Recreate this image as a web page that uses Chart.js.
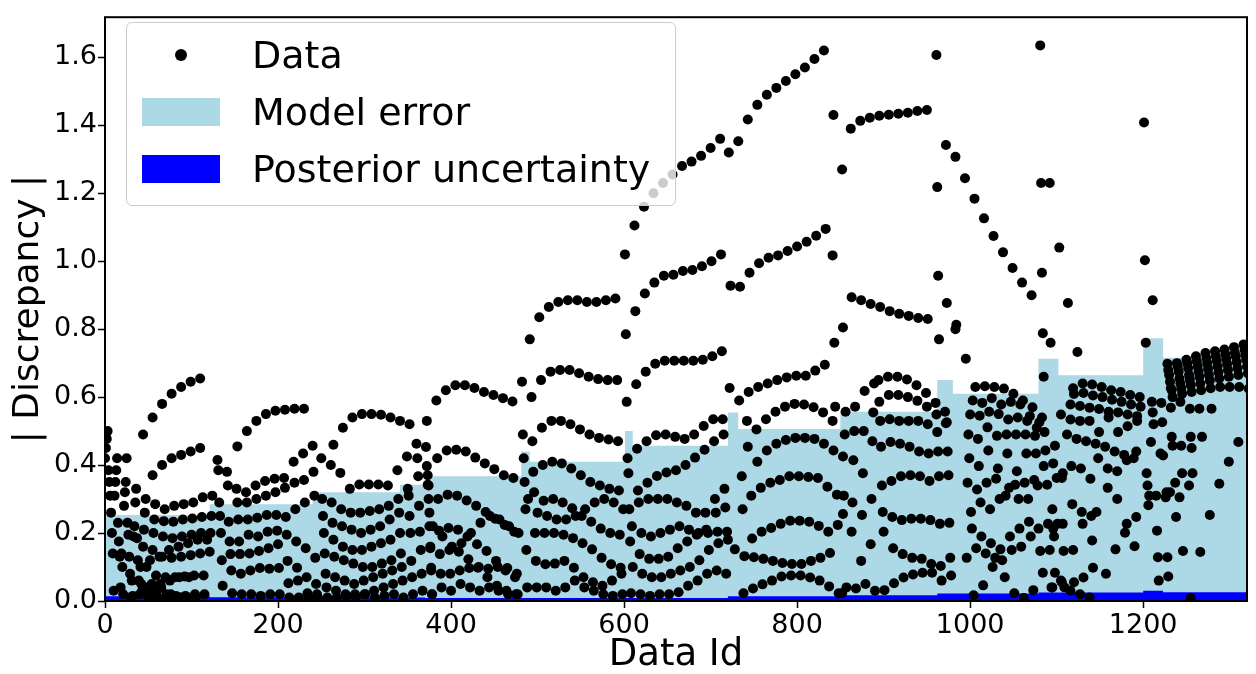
<!DOCTYPE html>
<html>
<head>
<meta charset="utf-8">
<script src="https://cdn.jsdelivr.net/npm/chart.js@4.4.1/dist/chart.umd.min.js"></script>
<style>
  body { margin: 0; background: #fff; }
  #wrap { position: relative; width: 1256px; height: 674px; }
  #legend {
    position: absolute; left: 126px; top: 22px; width: 548px; height: 182px;
    background: rgba(255,255,255,0.8); border: 1px solid #cccccc; border-radius: 6px;
    font-family: "DejaVu Sans", sans-serif; font-size: 38px; color: #000;
  }
  .item { position: absolute; left: 0; height: 40px; display: flex; align-items: center; }
  .mark { width: 78px; height: 28px; margin-left: 15px; display: flex; align-items: center; justify-content: center; }
  .lbl { margin-left: 32px; white-space: nowrap; }
</style>
</head>
<body>
<div id="wrap">
  <canvas id="chart" width="1256" height="674"></canvas>
  <div id="legend"></div>
</div>
<script>
// ids inside one curve are 11 apart (one column of sensors per step)
const STEP = 11;

// curves: [first data id, values...]
const seg1 = [
  [44, 0.49, 0.54, 0.58, 0.61, 0.63, 0.645, 0.655],
  [55, 0.37, 0.40, 0.42, 0.43, 0.44, 0.45],
  [3, 0.50, 0.42, 0.42, 0.33, 0.30, 0.285, 0.27, 0.28, 0.285, 0.29, 0.305, 0.31],
  [2, 0.477, 0.385, 0.35, 0.29, 0.26, 0.24, 0.235, 0.233, 0.24, 0.243, 0.247, 0.25],
  [1, 0.45, 0.35, 0.32, 0.22, 0.21, 0.2, 0.19, 0.185, 0.19, 0.195, 0.2, 0.2],
  [0, 0.42, 0.31, 0.28, 0.19, 0.16, 0.15, 0.13, 0.127, 0.13, 0.135, 0.14, 0.145],
  [4, 0.385, 0.23, 0.23, 0.185, 0.1, 0.075, 0.07, 0.07, 0.072, 0.075, 0.075],
  [5, 0.35, 0.175, 0.195, 0.12, 0.04, 0.03, 0.02, 0.015, 0.015, 0.02, 0.02],
  [6, 0.31, 0.13, 0.13, 0.06, 0.01, 0.01, 0.01, 0.01, 0.01, 0.01],
  [7, 0.26, 0.04, 0.08, 0.02, 0.01, 0.005],
  [8, 0.2, 0.14, 0.01, 0.1, 0.12, 0.13, 0.15, 0.16, 0.17, 0.18, 0.18],
  [9, 0.14, 0.1, 0.06, 0.05, 0.03, 0.05, 0.06, 0.07, 0.07],
  [10, 0.03, 0.02, 0.015, 0.03, 0.05, 0.04, 0.02, 0.01]
];
const seg2 = [
  [153, 0.455, 0.50, 0.53, 0.55, 0.56, 0.563, 0.566, 0.566],
  [130, 0.415, 0.38, 0.33, 0.32, 0.34, 0.353, 0.36, 0.362, 0.41, 0.434, 0.457],
  [131, 0.385, 0.34, 0.29, 0.29, 0.30, 0.31, 0.32, 0.333, 0.348, 0.356, 0.38],
  [132, 0.29, 0.233, 0.24, 0.24, 0.245, 0.253, 0.253, 0.247, 0.27, 0.29, 0.31],
  [133, 0.25, 0.175, 0.175, 0.195, 0.19, 0.204, 0.207, 0.195, 0.175, 0.155, 0.127],
  [134, 0.2, 0.138, 0.138, 0.14, 0.147, 0.155, 0.167, 0.118, 0.098, 0.07, 0.05],
  [135, 0.12, 0.09, 0.08, 0.09, 0.097, 0.095, 0.097, 0.052, 0.06, 0.023, 0.02],
  [136, 0.045, 0.023, 0.02, 0.02, 0.015, 0.02, 0.02, 0.01, 0.01, 0.01, 0.01]
];
const seg3 = [
  [264, 0.46, 0.51, 0.54, 0.55, 0.55, 0.548, 0.54, 0.53, 0.52],
  [250, 0.42, 0.40, 0.377, 0.33, 0.343, 0.343, 0.343, 0.34, 0.385, 0.425, 0.463, 0.453],
  [251, 0.30, 0.29, 0.27, 0.26, 0.26, 0.265, 0.27, 0.28, 0.30, 0.33, 0.42, 0.397],
  [252, 0.25, 0.23, 0.22, 0.21, 0.20, 0.21, 0.22, 0.24, 0.26, 0.31, 0.367, 0.342],
  [253, 0.2, 0.18, 0.16, 0.15, 0.15, 0.16, 0.17, 0.18, 0.2, 0.25, 0.28, 0.3],
  [254, 0.14, 0.13, 0.12, 0.11, 0.10, 0.10, 0.11, 0.12, 0.14, 0.2, 0.204, 0.22],
  [255, 0.08, 0.07, 0.06, 0.05, 0.06, 0.07, 0.08, 0.09, 0.10, 0.118, 0.15, 0.16],
  [256, 0.04, 0.03, 0.02, 0.02, 0.02, 0.03, 0.04, 0.05, 0.06, 0.07, 0.08, 0.09],
  [257, 0.01, 0.01, 0.015, 0.01, 0.02, 0.01, 0.015, 0.02, 0.01, 0.02, 0.03, 0.02]
];
const seg4 = [
  [372, 0.53, 0.59, 0.62, 0.635, 0.635, 0.627, 0.615, 0.606, 0.597, 0.587],
  [373, 0.37, 0.42, 0.443, 0.445, 0.44, 0.422, 0.405, 0.388, 0.37, 0.362],
  [374, 0.34, 0.30, 0.313, 0.31, 0.296, 0.28, 0.262, 0.242, 0.224, 0.204],
  [375, 0.26, 0.207, 0.215, 0.21, 0.19, 0.167, 0.147, 0.118, 0.09, 0.07],
  [376, 0.155, 0.138, 0.15, 0.145, 0.123, 0.098, 0.07, 0.045, 0.03, 0.02],
  [377, 0.098, 0.08, 0.08, 0.09, 0.097, 0.1, 0.095, 0.1, 0.097, 0.08],
  [378, 0.02, 0.04, 0.03, 0.05, 0.04, 0.03, 0.04, 0.03, 0.02, 0.02],
  [379, 0.22, 0.19, 0.16, 0.17, 0.2, 0.23, 0.25, 0.24, 0.22, 0.2]
];
const seg5 = [
  [491, 0.77, 0.835, 0.865, 0.88, 0.885, 0.885, 0.88, 0.88, 0.885, 0.89],
  [482, 0.645, 0.60, 0.65, 0.675, 0.68, 0.68, 0.67, 0.66, 0.653, 0.65, 0.65],
  [483, 0.49, 0.47, 0.51, 0.53, 0.53, 0.52, 0.505, 0.49, 0.48, 0.475, 0.47],
  [484, 0.42, 0.38, 0.40, 0.41, 0.405, 0.39, 0.37, 0.35, 0.34, 0.33, 0.325],
  [485, 0.35, 0.32, 0.295, 0.30, 0.29, 0.273, 0.25, 0.233, 0.213, 0.2, 0.195],
  [486, 0.27, 0.2, 0.2, 0.2, 0.195, 0.185, 0.17, 0.152, 0.127, 0.108, 0.098],
  [487, 0.15, 0.118, 0.108, 0.11, 0.118, 0.098, 0.07, 0.055, 0.045, 0.06, 0.08],
  [488, 0.04, 0.04, 0.04, 0.03, 0.04, 0.06, 0.04, 0.03, 0.02, 0.015, 0.02],
  [489, 0.3, 0.26, 0.25, 0.24, 0.24, 0.25, 0.27, 0.29, 0.3, 0.29, 0.27]
];
const seg6 = [
  [601, 1.02, 1.105, 1.16, 1.2, 1.23, 1.255, 1.28, 1.293, 1.31, 1.333, 1.36],
  [602, 0.785, 0.853, 0.905, 0.937, 0.957, 0.96, 0.971, 0.974, 0.985, 1.0, 1.02],
  [603, 0.586, 0.638, 0.675, 0.698, 0.707, 0.707, 0.707, 0.707, 0.71, 0.72, 0.735],
  [604, 0.42, 0.448, 0.47, 0.488, 0.49, 0.483, 0.477, 0.49, 0.515, 0.535, 0.535],
  [605, 0.376, 0.325, 0.348, 0.368, 0.378, 0.385, 0.4, 0.422, 0.445, 0.47, 0.49],
  [606, 0.27, 0.29, 0.30, 0.30, 0.30, 0.29, 0.28, 0.26, 0.26, 0.30, 0.33],
  [607, 0.175, 0.138, 0.124, 0.124, 0.13, 0.155, 0.175, 0.195, 0.21, 0.26, 0.275],
  [608, 0.023, 0.02, 0.015, 0.02, 0.02, 0.026, 0.045, 0.06, 0.08, 0.09, 0.08],
  [609, 0.22, 0.2, 0.19, 0.2, 0.21, 0.22, 0.21, 0.2, 0.2, 0.204, 0.204],
  [610, 0.1, 0.08, 0.07, 0.07, 0.08, 0.09, 0.1, 0.12, 0.15, 0.17, 0.18]
];
const seg7 = [
  [721, 1.32, 1.353, 1.417, 1.46, 1.49, 1.51, 1.53, 1.55, 1.57, 1.595, 1.62],
  [723, 0.928, 0.925, 0.966, 0.994, 1.01, 1.017, 1.03, 1.043, 1.057, 1.075, 1.095],
  [722, 0.627, 0.59, 0.615, 0.63, 0.64, 0.65, 0.658, 0.663, 0.663, 0.678, 0.695, 0.76],
  [742, 0.53, 0.505, 0.535, 0.557, 0.572, 0.58, 0.578, 0.57, 0.555, 0.53],
  [743, 0.454, 0.41, 0.443, 0.463, 0.474, 0.48, 0.48, 0.477, 0.463, 0.443, 0.425],
  [736, 0.367, 0.31, 0.333, 0.348, 0.356, 0.367, 0.367, 0.365, 0.362, 0.336, 0.313],
  [737, 0.27, 0.184, 0.204, 0.215, 0.227, 0.236, 0.236, 0.233, 0.221, 0.204, 0.224],
  [728, 0.152, 0.132, 0.129, 0.124, 0.118, 0.112, 0.109, 0.109, 0.118, 0.127, 0.141],
  [738, 0.023, 0.037, 0.049, 0.06, 0.072, 0.075, 0.075, 0.069, 0.06, 0.043, 0.023]
];
const seg8 = [
  [862, 1.39, 1.413, 1.422, 1.428, 1.431, 1.434, 1.437, 1.442, 1.445],
  [863, 0.894, 0.885, 0.874, 0.865, 0.853, 0.845, 0.839, 0.833, 0.83],
  [894, 0.65, 0.66, 0.66, 0.652, 0.635, 0.612, 0.583, 0.557],
  [895, 0.586, 0.606, 0.606, 0.6, 0.589, 0.572, 0.549, 0.523],
  [896, 0.53, 0.535, 0.53, 0.53, 0.53, 0.52, 0.497, 0.526],
  [897, 0.454, 0.468, 0.463, 0.454, 0.44, 0.434, 0.44, 0.44],
  [898, 0.34, 0.353, 0.367, 0.37, 0.367, 0.353, 0.367, 0.37],
  [899, 0.262, 0.247, 0.238, 0.242, 0.242, 0.238, 0.227, 0.23],
  [900, 0.204, 0.155, 0.138, 0.127, 0.124, 0.109, 0.103, 0.127],
  [901, 0.032, 0.052, 0.069, 0.078, 0.083, 0.083, 0.06, 0.075],
  [852, 0.023, 0.204, 0.118, 0.167],
  [853, 0.256, 0.29, 0.253, 0.3],
  [854, 0.31, 0.414, 0.376, 0.47],
  [855, 0.49, 0.5, 0.5, 0.555],
  [856, 0.557, 0.572, 0.618, 0.64],
  [857, 0.04, 0.037, 0.05, 0.03]
];
const seg9 = [
  [972, 1.342, 1.307, 1.244, 1.184, 1.126, 1.074, 1.026, 0.98, 0.937, 0.9],
  [1006, 0.63, 0.632, 0.63, 0.625, 0.61, 0.59, 0.57, 0.54],
  [1003, 0.59, 0.583, 0.597, 0.578, 0.586, 0.578, 0.544, 0.526],
  [1000, 0.549, 0.545, 0.557, 0.55, 0.534, 0.54, 0.53, 0.51],
  [998, 0.49, 0.477, 0.511, 0.486, 0.49, 0.49, 0.49, 0.486, 0.497],
  [999, 0.42, 0.397, 0.443, 0.39, 0.434, 0.382, 0.434, 0.434, 0.443, 0.457],
  [997, 0.348, 0.328, 0.348, 0.36, 0.31, 0.342, 0.348, 0.356, 0.397, 0.405, 0.376],
  [1001, 0.262, 0.29, 0.27, 0.3, 0.333, 0.3, 0.3, 0.34, 0.342, 0.362],
  [1002, 0.213, 0.19, 0.17, 0.152, 0.19, 0.213, 0.233, 0.213, 0.227, 0.227],
  [996, 0.127, 0.155, 0.14, 0.127, 0.07, 0.023, 0.009, 0.032, 0.083, 0.04, 0.055],
  [1004, 0.017, 0.046, 0.1, 0.12, 0.15, 0.16, 0.19, 0.147, 0.15]
];
const seg10 = [
  [1119, 0.626, 0.64, 0.637, 0.63, 0.62, 0.615, 0.606, 0.6],
  [1120, 0.609, 0.612, 0.605, 0.6, 0.592, 0.586, 0.578, 0.572],
  [1116, 0.578, 0.574, 0.569, 0.565, 0.557, 0.555, 0.549, 0.544],
  [1105, 0.549, 0.534, 0.53, 0.53, 0.497, 0.54, 0.497, 0.514, 0.53],
  [1112, 0.49, 0.477, 0.47, 0.463, 0.454, 0.44, 0.43, 0.42],
  [1148, 0.42, 0.39, 0.382, 0.414, 0.44],
  [1159, 0.333, 0.3, 0.227, 0.247],
  [1146, 0.262, 0.08, 0.152, 0.201, 0.161],
  [1095, 0.27, 0.362, 0.397, 0.39, 0.36],
  [1096, 0.213, 0.227, 0.285, 0.262, 0.25],
  [1097, 0.19, 0.147, 0.15, 0.227, 0.178],
  [1098, 0.083, 0.04, 0.055, 0.069, 0.098],
  [1094, 0.04, 0.06, 0.03, 0.02, 0.01]
];
const seg11 = [
  [1228, 0.698, 0.70, 0.71, 0.72, 0.73, 0.735, 0.74, 0.747, 0.755],
  [1229, 0.68, 0.69, 0.70, 0.705, 0.715, 0.72, 0.727, 0.73, 0.74],
  [1230, 0.665, 0.675, 0.685, 0.69, 0.70, 0.707, 0.713, 0.72, 0.725],
  [1231, 0.645, 0.655, 0.665, 0.675, 0.683, 0.69, 0.697, 0.703, 0.71],
  [1232, 0.626, 0.64, 0.65, 0.66, 0.665, 0.673, 0.68, 0.685, 0.69],
  [1233, 0.62, 0.626, 0.635, 0.64, 0.648, 0.655, 0.66, 0.665, 0.67],
  [1234, 0.6, 0.61, 0.615, 0.62, 0.626, 0.63, 0.63, 0.63, 0.625],
  [1210, 0.586, 0.583, 0.569, 0.586, 0.566, 0.566],
  [1211, 0.555, 0.526, 0.483, 0.457, 0.483],
  [1212, 0.52, 0.428, 0.457, 0.376, 0.45],
  [1209, 0.468, 0.434, 0.32, 0.305, 0.34],
  [1204, 0.376, 0.31, 0.305, 0.348],
  [1205, 0.34, 0.207, 0.32, 0.247],
  [1206, 0.282, 0.129, 0.129],
  [1207, 0.31, 0.06, 0.072],
  [1246, 0.147, 0.376, 0.483, 0.566],
  [1255, 0.009, 0.144, 0.253, 0.345, 0.41, 0.468]
];
// isolated points: [id, value]
const singles = [
  [841, 1.017], [842, 1.43], [844, 0.572], [852, 1.27], [853, 0.805],
  [961, 1.607], [962, 1.218], [963, 0.957], [964, 0.77], [973, 0.877], [983, 0.80],
  [984, 0.813], [995, 0.713], [1081, 1.635], [1082, 1.23], [1083, 0.966], [1084, 0.788],
  [1085, 0.66], [1092, 1.23], [1093, 0.76], [1103, 1.04], [1113, 0.877], [1124, 0.733],
  [1201, 1.408], [1202, 1.003], [1203, 0.76], [1211, 0.885]
];

// model error / posterior uncertainty: level held from each start id
const bandStarts = [0, 121, 240, 341, 370, 481, 491, 601, 610, 720, 732, 850, 962, 980, 1079, 1102, 1200, 1223, 1320];
const modelError = [0.253, 0.285, 0.32, 0.342, 0.367, 0.44, 0.41, 0.50, 0.457, 0.555, 0.506, 0.557, 0.65, 0.61, 0.713, 0.664, 0.773, 0.716, 0.716];
const posterior = [0.014, 0.011, 0.01, 0.01, 0.009, 0.009, 0.009, 0.009, 0.009, 0.014, 0.014, 0.017, 0.022, 0.022, 0.025, 0.025, 0.03, 0.026, 0.026];

const points = [];
[seg1, seg2, seg3, seg4, seg5, seg6, seg7, seg8, seg9, seg10, seg11].forEach(seg => {
  seg.forEach(c => {
    c.slice(1).forEach((v, j) => points.push({ x: c[0] + j * STEP, y: v }));
  });
});
singles.forEach(p => points.push({ x: p[0], y: p[1] }));

const FONT = "'DejaVu Sans', sans-serif";

const frame = {
  id: "frame",
  afterDraw(chart) {
    const a = chart.chartArea, ctx = chart.ctx;
    ctx.save();
    ctx.strokeStyle = "#000";
    ctx.lineWidth = 2;
    ctx.strokeRect(a.left, a.top, a.right - a.left, a.bottom - a.top);
    ctx.restore();
  }
};

const chart = new Chart(document.getElementById("chart"), {
  type: "scatter",
  data: {
    datasets: [
      {
        label: "Data",
        data: points,
        backgroundColor: "#000",
        borderWidth: 0,
        pointRadius: 5,
        order: 0
      },
      {
        type: "line",
        label: "Model error",
        data: bandStarts.map((x, i) => ({ x: x, y: modelError[i] })),
        stepped: true,
        fill: "origin",
        backgroundColor: "#add8e6",
        borderWidth: 0,
        pointRadius: 0,
        order: 2
      },
      {
        type: "line",
        label: "Posterior uncertainty",
        data: bandStarts.map((x, i) => ({ x: x, y: posterior[i] })),
        stepped: true,
        fill: "origin",
        backgroundColor: "#0000ff",
        borderWidth: 0,
        pointRadius: 0,
        order: 1
      }
    ]
  },
  options: {
    responsive: false,
    animation: false,
    layout: { padding: { top: 3, right: 9, left: 0, bottom: 0 } },
    plugins: { legend: { display: false }, tooltip: { enabled: false } },
    scales: {
      x: {
        type: "linear",
        min: 0,
        max: 1320,
        afterBuildTicks: s => { s.ticks = s.ticks.filter(t => t.value % 200 === 0); },
        afterFit: s => { s.height = 73; },
        border: { display: false },
        grid: { drawOnChartArea: false, tickLength: 7, tickWidth: 1.5, tickColor: "#000" },
        ticks: {
          stepSize: 200, color: "#000", padding: 2, maxRotation: 0,
          font: { family: FONT, size: 27 },
          callback: v => String(v)
        },
        title: { display: true, text: "Data Id", color: "#000", padding: 0, font: { family: FONT, size: 37, lineHeight: 1 } }
      },
      y: {
        min: 0,
        max: 1.718,
        afterBuildTicks: s => {
          s.ticks = s.ticks.filter(t => Math.abs(t.value * 5 - Math.round(t.value * 5)) < 1e-6);
        },
        afterFit: s => { s.width = 105; },
        border: { display: false },
        grid: { drawOnChartArea: false, tickLength: 7, tickWidth: 1.5, tickColor: "#000" },
        ticks: {
          stepSize: 0.2, color: "#000", padding: 1,
          font: { family: FONT, size: 27 },
          callback: v => v.toFixed(1)
        },
        title: { display: true, text: "| Discrepancy |", color: "#000", padding: 11, font: { family: FONT, size: 36, lineHeight: 1 } }
      }
    }
  },
  plugins: [frame]
});

// legend box in the upper-left corner of the plot, built from the datasets
const legend = document.getElementById("legend");
chart.data.datasets.forEach((ds, i) => {
  const item = document.createElement("div");
  item.className = "item";
  item.style.top = (12 + i * 57) + "px";
  const mark = document.createElement("div");
  mark.className = "mark";
  if (ds.label === "Data") {
    const dot = document.createElement("div");
    dot.style.cssText = "width:12px;height:12px;border-radius:50%;background:#000";
    mark.appendChild(dot);
  } else {
    mark.style.background = ds.backgroundColor;
  }
  const lbl = document.createElement("span");
  lbl.className = "lbl";
  lbl.textContent = ds.label;
  item.appendChild(mark);
  item.appendChild(lbl);
  legend.appendChild(item);
});
</script>
</body>
</html>
